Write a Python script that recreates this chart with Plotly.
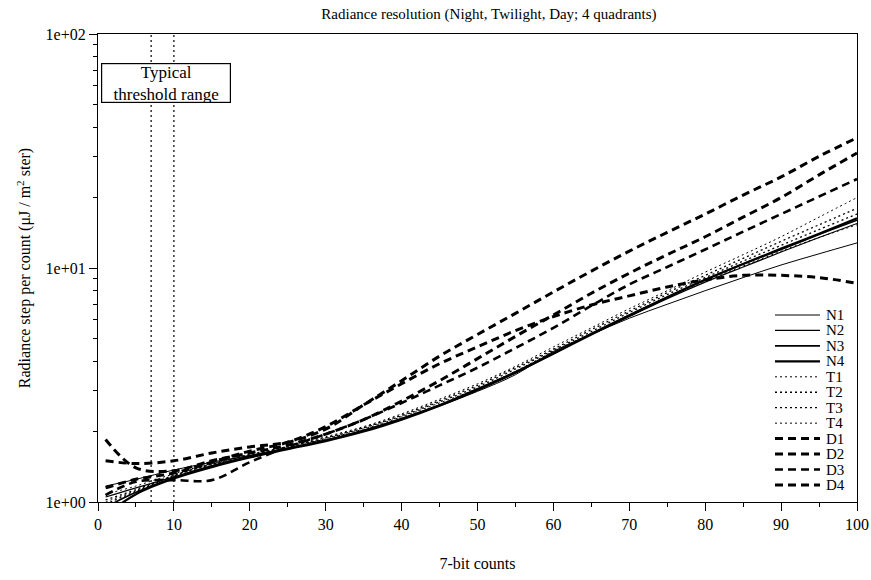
import plotly.graph_objects as go

# ---------------- data ----------------
counts = [1, 5, 10, 15, 20, 25, 30, 35, 40, 45, 50, 55, 60, 65, 70, 75, 80, 85, 90, 95, 100]

N1 = [1.17, 1.25, 1.37, 1.48, 1.58, 1.70, 1.84, 2.02, 2.26, 2.57, 2.97, 3.50, 4.40, 5.20, 6.10, 7.00, 8.00, 9.10, 10.3, 11.5, 12.8]
N2 = [1.05, 1.15, 1.28, 1.43, 1.57, 1.70, 1.84, 2.03, 2.28, 2.60, 3.00, 3.55, 4.30, 5.20, 6.20, 7.40, 8.70, 10.1, 11.7, 13.5, 15.5]
N3 = [0.95, 1.10, 1.27, 1.42, 1.56, 1.69, 1.83, 2.02, 2.27, 2.60, 3.05, 3.60, 4.35, 5.25, 6.30, 7.50, 8.90, 10.4, 12.0, 13.9, 16.0]
N4 = [0.88, 1.08, 1.26, 1.41, 1.55, 1.68, 1.82, 2.00, 2.25, 2.58, 3.02, 3.58, 4.30, 5.20, 6.25, 7.50, 8.90, 10.4, 12.1, 14.0, 16.3]
T1 = [1.00, 1.12, 1.30, 1.46, 1.60, 1.73, 1.90, 2.10, 2.38, 2.75, 3.20, 3.80, 4.60, 5.55, 6.70, 8.00, 9.60, 11.4, 13.6, 16.5, 20.0]
T2 = [0.98, 1.11, 1.29, 1.45, 1.59, 1.72, 1.88, 2.08, 2.35, 2.71, 3.15, 3.75, 4.50, 5.45, 6.55, 7.85, 9.30, 11.0, 13.0, 15.3, 18.0]
T3 = [1.02, 1.13, 1.30, 1.45, 1.58, 1.71, 1.87, 2.07, 2.33, 2.68, 3.10, 3.70, 4.45, 5.35, 6.45, 7.70, 9.10, 10.7, 12.5, 14.6, 17.0]
T4 = [1.08, 1.17, 1.32, 1.46, 1.58, 1.70, 1.86, 2.05, 2.31, 2.65, 3.05, 3.62, 4.40, 5.25, 6.30, 7.50, 8.80, 10.2, 11.8, 13.5, 15.3]
D1 = [1.50, 1.46, 1.50, 1.62, 1.72, 1.80, 2.05, 2.60, 3.30, 4.20, 5.20, 6.40, 7.90, 9.70, 11.8, 14.2, 17.0, 20.5, 24.5, 30.0, 36.0]
D2 = [1.85, 1.40, 1.36, 1.50, 1.62, 1.75, 1.95, 2.25, 2.70, 3.30, 4.10, 5.10, 6.30, 7.80, 9.50, 11.4, 13.6, 16.5, 20.0, 25.0, 31.0]
D3 = [1.07, 1.22, 1.24, 1.24, 1.48, 1.72, 1.95, 2.25, 2.65, 3.15, 3.75, 4.55, 5.55, 6.90, 8.50, 10.1, 12.0, 14.3, 17.0, 20.2, 24.0]
D4 = [1.15, 1.25, 1.33, 1.48, 1.65, 1.80, 2.10, 2.60, 3.20, 3.90, 4.60, 5.40, 6.20, 6.95, 7.60, 8.30, 8.90, 9.30, 9.30, 9.10, 8.60]

series_names = ["N1", "N2", "N3", "N4", "T1", "T2", "T3", "T4", "D1", "D2", "D3", "D4"]
series_values = [N1, N2, N3, N4, T1, T2, T3, T4, D1, D2, D3, D4]

threshold_x = [7, 10]

x_ticks = [0, 10, 20, 30, 40, 50, 60, 70, 80, 90, 100]
y_ticks = [1, 10, 100]
y_tick_labels = ["1e+00", "1e+01", "1e+02"]
y_minor = [2, 3, 4, 5, 6, 7, 8, 9, 20, 30, 40, 50, 60, 70, 80, 90]

# ---------------- styles ----------------
FONT = "Liberation Serif"
line_styles = {
    "N1": dict(width=1.0, dash="solid"),
    "N2": dict(width=1.2, dash="solid"),
    "N3": dict(width=1.6, dash="solid"),
    "N4": dict(width=2.2, dash="solid"),
    "T1": dict(width=1.0, dash="2px,3px"),
    "T2": dict(width=1.3, dash="2px,3px"),
    "T3": dict(width=1.3, dash="2px,3px"),
    "T4": dict(width=1.0, dash="2px,3px"),
    "D1": dict(width=3.0, dash="8px,5px"),
    "D2": dict(width=3.0, dash="8px,5px"),
    "D3": dict(width=2.6, dash="8px,5px"),
    "D4": dict(width=3.0, dash="8px,5px"),
}

fig = go.Figure()
for name, vals in zip(series_names, series_values):
    st = line_styles[name]
    fig.add_trace(go.Scatter(
        x=counts, y=vals, name=name, mode="lines", showlegend=False,
        line=dict(color="black", width=st["width"], dash=st["dash"], shape="spline", smoothing=1.0),
    ))

# threshold lines
for tx in threshold_x:
    fig.add_shape(type="line", xref="x", yref="paper", x0=tx, x1=tx, y0=0, y1=1,
                  line=dict(color="black", width=1.2, dash="2px,3px"), layer="above")

# threshold box
fig.add_annotation(text="Typical<br>threshold range", xref="paper", yref="paper",
                   x=0.004, y=0.938, xanchor="left", yanchor="top",
                   showarrow=False, font=dict(family=FONT, size=17, color="black"),
                   width=128, height=38, borderpad=0, borderwidth=1.2,
                   bordercolor="black", bgcolor="white", align="center", valign="middle")

# legend (drawn in the plot's lower right corner)
PLOT_TOP, PLOT_BOTTOM, PLOT_LEFT, PLOT_W = 34, 502, 98, 759
leg_x0 = (775 - PLOT_LEFT) / PLOT_W
leg_x1 = (820 - PLOT_LEFT) / PLOT_W
leg_tx = (824 - PLOT_LEFT) / PLOT_W
for i, name in enumerate(series_names):
    ypx = 315 + i * 15.45
    yp = (PLOT_BOTTOM - ypx) / (PLOT_BOTTOM - PLOT_TOP)
    st = line_styles[name]
    fig.add_shape(type="line", xref="paper", yref="paper", x0=leg_x0, x1=leg_x1, y0=yp, y1=yp,
                  line=dict(color="black", width=st["width"], dash=st["dash"]), layer="above")
    fig.add_annotation(text=name, xref="paper", yref="paper", x=leg_tx, y=yp,
                       xanchor="left", yanchor="middle", showarrow=False,
                       font=dict(family=FONT, size=15, color="black"))

fig.update_layout(
    width=871, height=580,
    margin=dict(l=98, r=14, t=34, b=78),
    paper_bgcolor="white", plot_bgcolor="white",
    font=dict(family=FONT, color="black", size=15),
    title=dict(text="Radiance resolution (Night, Twilight, Day; 4 quadrants)",
               x=0.5614, xref="container", xanchor="center",
               y=0.976, yref="container", yanchor="middle",
               font=dict(family=FONT, size=15, color="black")),
    showlegend=False,
)

fig.update_xaxes(
    range=[0, 100], tickvals=x_ticks, ticks="outside", ticklen=8, tickwidth=1.2,
    tickcolor="black", showline=True, linecolor="black", linewidth=1.2, mirror=True,
    showgrid=False, zeroline=False, automargin=False,
    minor=dict(ticks="outside", ticklen=4, tickcolor="black", dtick=5, showgrid=False),
    tickfont=dict(family=FONT, size=16, color="black"),
    title=dict(text="7-bit counts", standoff=25, font=dict(family=FONT, size=16, color="black")),
)
fig.update_yaxes(
    type="log", range=[0, 2], tickvals=y_ticks, ticktext=y_tick_labels,
    ticks="outside", ticklen=8, tickwidth=1.2, tickcolor="black",
    showline=True, linecolor="black", linewidth=1.2, mirror=True,
    showgrid=False, zeroline=False, automargin=False,
    minor=dict(ticks="outside", ticklen=4, tickcolor="black", tickvals=y_minor, showgrid=False),
    tickfont=dict(family=FONT, size=16, color="black"),
    title=dict(text="Radiance step per count (\u03bcJ / m<sup>2</sup> ster)", standoff=10,
               font=dict(family=FONT, size=16, color="black")),
)

fig.write_html("out.html")
